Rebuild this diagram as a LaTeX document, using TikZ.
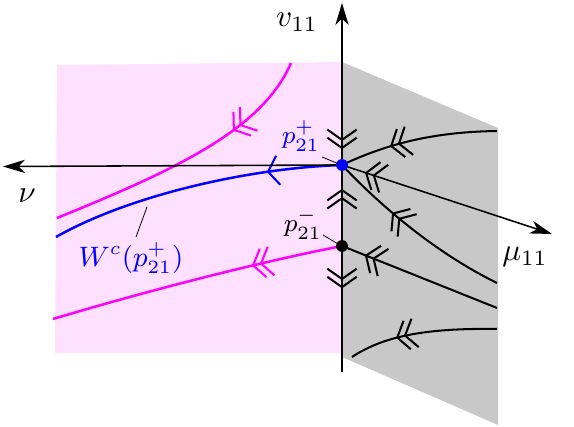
\documentclass[tikz,border=0pt]{standalone}
\usetikzlibrary{arrows.meta,decorations.markings}
\definecolor{magc}{RGB}{255,0,255}
\definecolor{pinkc}{RGB}{255,224,255}
\definecolor{grayc}{RGB}{200,200,200}
\definecolor{bluec}{RGB}{0,0,255}
\tikzset{
  fw/.style 2 args={postaction={decorate,decoration={markings,mark=at position #1 with {\draw[-,#2,line width=0.65pt] (-3.3pt,4.7pt) -- (0pt,0pt) -- (-3.3pt,-4.7pt) (-5.9pt,4.7pt) -- (-2.6pt,0pt) -- (-5.9pt,-4.7pt);}}}},
  bw/.style 2 args={postaction={decorate,decoration={markings,mark=at position #1 with {\draw[-,#2,line width=0.65pt,xscale=-1] (-3.3pt,4.7pt) -- (0pt,0pt) -- (-3.3pt,-4.7pt) (-5.9pt,4.7pt) -- (-2.6pt,0pt) -- (-5.9pt,-4.7pt);}}}},
  fwone/.style 2 args={postaction={decorate,decoration={markings,mark=at position #1 with {\draw[-,#2,line width=0.65pt] (-3.3pt,4.7pt) -- (0pt,0pt) -- (-3.3pt,-4.7pt);}}}},
  axis/.style={line width=0.5pt,black},
  axtip/.style={-{Stealth[length=7pt,width=4.2pt,inset=2pt]}},
  flow/.style={line width=0.65pt,black},
  mag/.style={line width=0.8pt,magc},
  bluepath/.style={line width=0.8pt,bluec},
  leader/.style={line width=0.25pt,black},
  dot/.style={circle,inner sep=0pt,minimum size=3.8pt},
  lab/.style={inner sep=0pt},
}
\begin{document}
\begin{tikzpicture}[x=0.32pt,y=-0.32pt]
\useasboundingbox (0,0) rectangle (574,427);
% planes
\fill[pinkc] (57,65) -- (342,62) -- (342,353) -- (55,353) -- cycle;
\fill[grayc] (342,62) -- (498,128) -- (498,425) -- (342,357) -- cycle;
% points
\coordinate (pp) at (342,165);
\coordinate (pm) at (342,246);
\coordinate (vbot) at (342,372);
\coordinate (vtop) at (342,3);
\coordinate (nutip) at (3,166.5);
\coordinate (mutip) at (552,234);
\coordinate (m1s) at (291,63);  \coordinate (m1e) at (57,218);
\coordinate (m2e) at (53,319);
\coordinate (wce) at (56,237);
\coordinate (g1e) at (497,131);
\coordinate (g3e) at (497,283);
\coordinate (g4e) at (497,308);
\coordinate (g5s) at (352,357); \coordinate (g5e) at (497,329);
% pink plane curves
\draw[mag,fw={0.31}{magc}] (m1s) .. controls (262,130) and (175,170) .. (m1e);
\draw[mag,fw={0.305}{magc}] (pm) .. controls (260,262) and (150,290) .. (m2e);
\draw[bluepath,fwone={0.25}{bluec}] (pp) .. controls (250,168) and (130,195) .. (wce);
% gray plane curves
\draw[flow,bw={0.33}{black}] (pp) .. controls (385,145) and (430,132) .. (g1e);
\draw[flow,bw={0.36}{black}] (pp) .. controls (375,200) and (430,250) .. (g3e);
\draw[flow,bw={0.155}{black}] (pm) -- (g4e);
\draw[flow,bw={0.33}{black}] (g5s) .. controls (385,335) and (430,328) .. (g5e);
% axes
\draw[axis,axtip,bw={0.23}{black},fw={0.493}{black},bw={0.607}{black}] (vbot) -- (vtop);
\draw[axis,axtip] (pp) -- (nutip);
\draw[axis,axtip,bw={0.115}{black}] (pp) -- (mutip);
% dots
\node[dot,fill=bluec] (dpp) at (pp) {};
\node[dot,fill=black] (dpm) at (pm) {};
% labels
\node[lab] (lv) at (297,22) {$v_{11}$};
\node[lab] (lnu) at (27,196) {$\nu$};
\node[lab] (lmu) at (525,257) {$\mu_{11}$};
\node[lab,text=bluec,font=\footnotesize] (lpp) at (301,136) {$p_{21}^+$};
\node[lab,font=\footnotesize] (lpm) at (303,224) {$p_{21}^-$};
\node[lab,text=bluec,font=\small] (lw) at (131,258) {$W^c(p_{21}^+)$};
% leaders
\coordinate (a1) at (322,157); \coordinate (a2) at (339,164);
\coordinate (b1) at (323,235); \coordinate (b2) at (338,244);
\coordinate (c1) at (147,207); \coordinate (c2) at (136,237);
\draw[leader] (a1) -- (a2);
\draw[leader] (b1) -- (b2);
\draw[leader] (c1) -- (c2);
\end{tikzpicture}
\end{document}
